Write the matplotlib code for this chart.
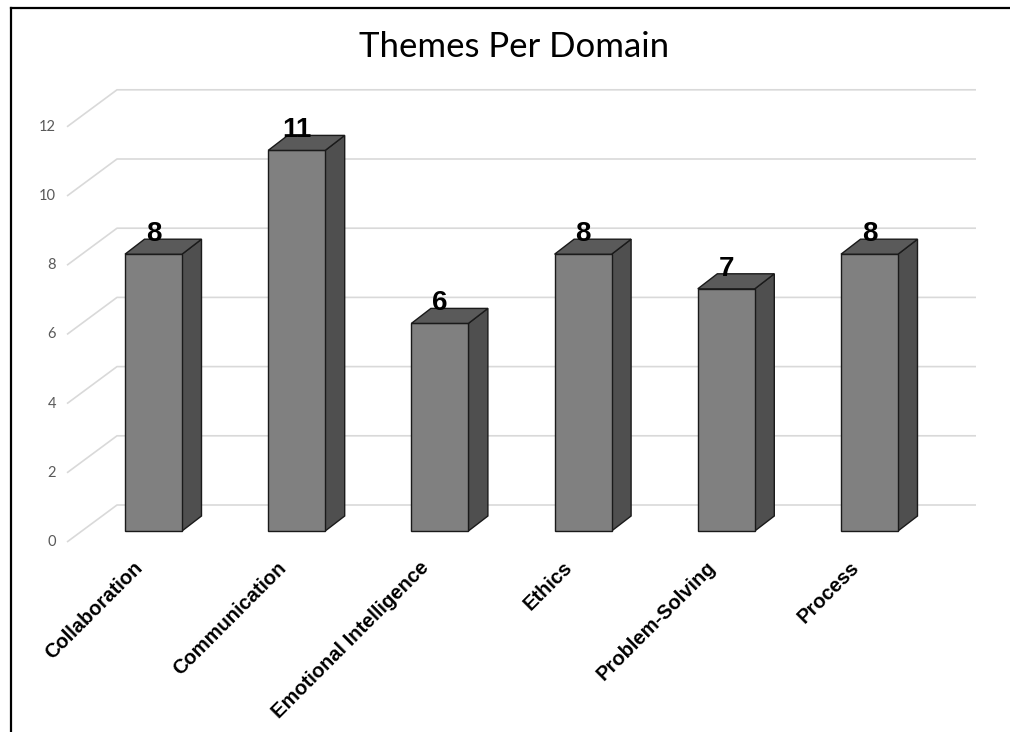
import matplotlib
matplotlib.use("Agg")
import matplotlib.pyplot as plt
from matplotlib.patches import Polygon
from matplotlib.lines import Line2D

categories = ["Collaboration", "Communication", "Emotional Intelligence",
              "Ethics", "Problem-Solving", "Process"]
values = [8, 11, 6, 8, 7, 8]
yticks = [0, 2, 4, 6, 8, 10, 12]
title = "Themes Per Domain"

W, H = 1010, 732
fig = plt.figure(figsize=(W / 100, H / 100), dpi=100)
ax = fig.add_axes([0, 0, 1, 1])
# pixel mapping: x index i -> 153.5 + 143.2*i ; value v -> 531 - 34.6*v (from top)
px_x, x0 = 143.2, 153.5
px_y, y0 = 34.6, 531
ax.set_xlim(-x0 / px_x, (W - x0) / px_x)
ax.set_ylim(-(H - y0) / px_y, y0 / px_y)
ax.axis("off")

# 3D geometry (data units)
w = 0.199
dx = 19.5 / px_x
dy = 15 / px_y
grid_front_x = (67 - x0) / px_x
grid_back_x = (117 - x0) / px_x
grid_right_x = (976 - x0) / px_x
grid_front_dy = -11 / px_y
grid_back_dy = 26 / px_y

grid_c = "#d9d9d9"
for t in yticks:
    ax.plot([grid_front_x, grid_back_x, grid_right_x],
            [t + grid_front_dy, t + grid_back_dy, t + grid_back_dy],
            color=grid_c, lw=1.2, zorder=1, solid_capstyle="butt")
    ax.text((56 - x0) / px_x, t + grid_front_dy, str(t), ha="right", va="center",
            fontsize=10.5, color="#595959", family="Lato")

front_c = "#808080"
top_c = "#5a5a5a"
side_c = "#4f4f4f"
edge_c = "#1a1a1a"
for i, v in enumerate(values):
    front = Polygon([(i - w, 0), (i + w, 0), (i + w, v), (i - w, v)],
                    closed=True, fc=front_c, ec=edge_c, lw=1.0, zorder=3)
    top = Polygon([(i - w, v), (i - w + dx, v + dy), (i + w + dx, v + dy), (i + w, v)],
                  closed=True, fc=top_c, ec=edge_c, lw=1.0, zorder=3)
    side = Polygon([(i + w, 0), (i + w + dx, dy), (i + w + dx, v + dy), (i + w, v)],
                   closed=True, fc=side_c, ec=edge_c, lw=1.0, zorder=3)
    for p in (side, front, top):
        ax.add_patch(p)
    ax.text(i, v + dy - 0.06, str(v), ha="center", va="baseline",
            fontsize=20, fontweight="bold", color="black",
            family="Liberation Sans", zorder=5)
    ax.text(i - 0.095, -0.98, categories[i], rotation=45, rotation_mode="anchor",
            ha="right", va="center", fontsize=14.5, fontweight="bold",
            color="black", family="Liberation Sans")

fig.text(514 / W, 1 - 47 / H, title, ha="center", va="center",
         fontsize=25, color="black", family="Lato")

# chart border (left and top)
fig.add_artist(Line2D([11 / W, 11 / W], [0, 1 - 7.5 / H], color="black", lw=1.6,
                      transform=fig.transFigure))
fig.add_artist(Line2D([11 / W, 1], [1 - 7.5 / H, 1 - 7.5 / H], color="black", lw=1.6,
                      transform=fig.transFigure))

fig.savefig("out.png", dpi=100)
